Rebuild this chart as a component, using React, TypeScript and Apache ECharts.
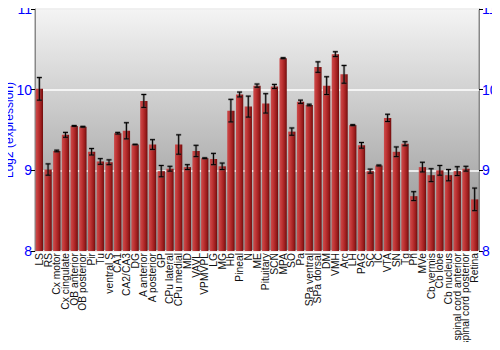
import React, { useEffect, useRef } from "react";
import * as echarts from "echarts";

const categories = [
  "LS", "RS", "Cx motor", "Cx cingulate", "OB anterior", "OB posterior", "Pir", "Tu", "ventral S", "CA1", "CA2/CA3", "DG",
  "A anterior", "A posterior", "GP", "CPu lateral", "CPu medial", "MD", "VAVL", "VPMVPL", "LG", "MG", "Hb", "Pineal", "N", "ME",
  "Pituitary", "SCN", "MPA", "SO", "Pa", "SPa ventral", "SPa dorsal", "DM", "VMH", "Arc", "LH", "PAG", "SC", "IC",
  "VTA", "SN", "Tg", "Pn", "MVe", "Cb vermis", "Cb lobe", "Cb nucleus", "spinal cord anterior", "spinal cord posterior", "Retina",
];

const values = [
  10.01, 9.01, 9.24, 9.44, 9.55, 9.54, 9.23, 9.11, 9.10, 9.46, 9.49, 9.32,
  9.86, 9.32, 8.99, 9.02, 9.32, 9.04, 9.24, 9.15, 9.14, 9.05, 9.74, 9.94, 9.79, 10.05,
  9.83, 10.04, 10.39, 9.48, 9.85, 9.81, 10.28, 10.05, 10.44, 10.19, 9.56, 9.31, 8.99, 9.06,
  9.65, 9.23, 9.33, 8.68, 9.04, 8.94, 9.0, 8.94, 8.99, 9.02, 8.64,
];

const errors = [
  0.14, 0.07, 0.01, 0.03, 0.005, 0.005, 0.04, 0.035, 0.03, 0.01, 0.1, 0.003,
  0.08, 0.06, 0.07, 0.03, 0.12, 0.03, 0.07, 0.005, 0.07, 0.04, 0.14, 0.03, 0.13, 0.02,
  0.12, 0.025, 0.006, 0.045, 0.02, 0.01, 0.065, 0.11, 0.03, 0.11, 0.006, 0.035, 0.025, 0.006,
  0.045, 0.06, 0.025, 0.055, 0.06, 0.08, 0.06, 0.07, 0.055, 0.03, 0.14,
];

const yTicks = { min: 8, max: 11, interval: 1 };

const FONT = "Liberation Sans, Arial, sans-serif";

export default function App() {
  const ref = useRef<HTMLDivElement>(null);
  useEffect(() => {
    if (!ref.current) return;
    const chart = echarts.init(ref.current, null, { renderer: "svg" });
    const barGradient = new echarts.graphic.LinearGradient(0, 0, 1, 0, [
      { offset: 0, color: "#cc4c4c" },
      { offset: 0.35, color: "#bf3434" },
      { offset: 0.75, color: "#9a1c1c" },
      { offset: 1, color: "#6e0c0c" },
    ]);
    const errData = values.map((v, i) => [i, v - errors[i], v + errors[i]]);
    const yAxisCommon = {
      type: "value",
      min: yTicks.min,
      max: yTicks.max,
      interval: yTicks.interval,
      axisLine: { show: true, lineStyle: { color: "#888" } },
      axisTick: { show: true, length: 4, lineStyle: { color: "#000" } },
      axisLabel: { color: "#0000ff", fontSize: 14, margin: 3, fontFamily: FONT },
    };
    chart.setOption({
      animation: false,
      grid: {
        left: 35,
        right: 21,
        top: 9,
        bottom: 99,
        outerBoundsMode: "none",
        containLabel: false,
        show: true,
        borderColor: "#888",
        borderWidth: 1,
        backgroundColor: new echarts.graphic.LinearGradient(0, 0, 0, 1, [
          { offset: 0, color: "#f4f4f4" },
          { offset: 1, color: "#8e8e8e" },
        ]),
      },
      xAxis: {
        type: "category",
        data: categories,
        axisLine: { show: false },
        axisTick: { show: false },
        axisLabel: {
          interval: 0,
          rotate: 90,
          fontSize: 10.3,
          color: "#111",
          fontFamily: FONT,
          margin: 2,
        },
      },
      yAxis: [
        {
          ...yAxisCommon,
          name: "Log2 (expression)",
          nameLocation: "middle",
          nameGap: 20,
          nameMoveOverlap: false,
          nameTextStyle: { color: "#0000ff", fontSize: 12, fontFamily: FONT },
          splitLine: { show: true, lineStyle: { color: "#ffffff", width: 1.5 } },
        },
        {
          ...yAxisCommon,
          position: "right",
          splitLine: { show: false },
        },
      ],
      series: [
        {
          type: "bar",
          data: values,
          barCategoryGap: "16%",
          itemStyle: { color: barGradient },
        },
        {
          type: "custom",
          data: errData,
          z: 10,
          renderItem: (params: any, api: any) => {
            const i = api.value(0);
            const lo = api.coord([i, api.value(1)]);
            const hi = api.coord([i, api.value(2)]);
            const x = lo[0];
            const w = 2.5;
            const mk = (stroke: string, lw: number, op: number) => [
              { type: "line", shape: { x1: x, y1: lo[1], x2: x, y2: hi[1] }, style: { stroke, lineWidth: lw, opacity: op } },
              { type: "line", shape: { x1: x - w, y1: lo[1], x2: x + w, y2: lo[1] }, style: { stroke, lineWidth: lw, opacity: op } },
              { type: "line", shape: { x1: x - w, y1: hi[1], x2: x + w, y2: hi[1] }, style: { stroke, lineWidth: lw, opacity: op } },
            ];
            return {
              type: "group",
              children: [...mk("#555", 2.5, 0.45), ...mk("#000", 1, 1)],
            };
          },
        },
      ],
    });
    return () => chart.dispose();
  }, []);
  return <div ref={ref} style={{ width: 500, height: 350, margin: -8 }} />;
}
